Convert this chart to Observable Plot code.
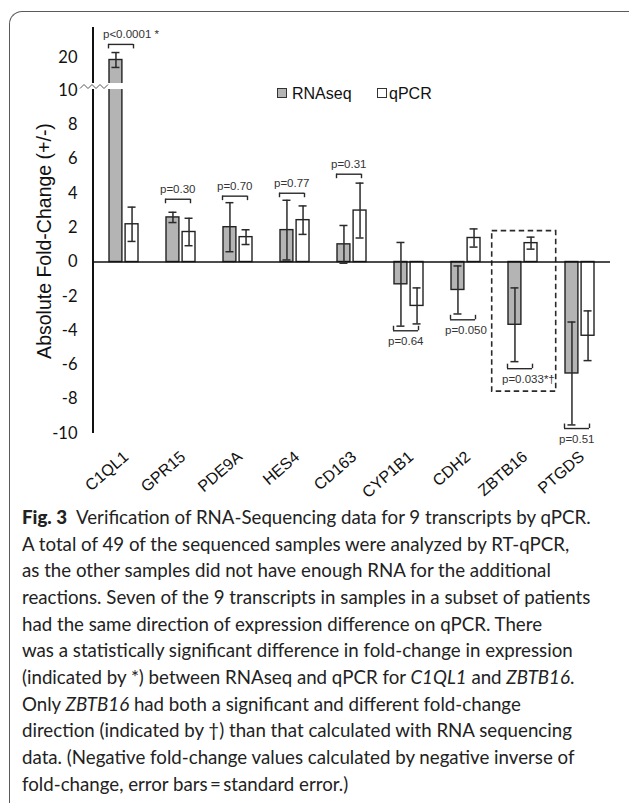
<!DOCTYPE html>
<html><head><meta charset="utf-8">
<script src="https://cdn.jsdelivr.net/npm/d3@7"></script>
<script src="https://cdn.jsdelivr.net/npm/@observablehq/plot@0.6"></script>
<style>
body{margin:0;background:#fff;}
#fig{position:relative;width:629px;height:803px;overflow:hidden;font-family:"Liberation Sans",Arial,sans-serif;color:#111;}
#border{position:absolute;left:9px;top:11px;width:660px;height:830px;border-top:1.5px solid #5a5a5a;border-left:1.5px solid #5a5a5a;border-top-left-radius:13px;}
#chart{position:absolute;left:0;top:0;}
#ylabel{position:absolute;left:44px;top:241px;transform:translate(-50%,-50%) rotate(-90deg);font-size:19.5px;white-space:nowrap;}
.lg{position:absolute;font-size:16px;line-height:16px;white-space:nowrap;}
.sw{position:absolute;width:8px;height:8px;border:1.3px solid #333;}
#caption{position:absolute;left:22px;top:504px;font-family:Lato,"Open Sans",sans-serif;font-size:18.7px;line-height:26.65px;color:#222;}
#caption div{white-space:nowrap;}
</style>
</head><body>
<div id="fig">
  <div id="border"></div>
  <div id="chart"></div>
  <div id="ylabel"></div>
  <div id="legend"></div>
  <div id="caption"></div>
</div>
<script>
// ---- data ----
const genes = ["C1QL1","GPR15","PDE9A","HES4","CD163","CYP1B1","CDH2","ZBTB16","PTGDS"];
const series = ["RNAseq","qPCR"];
const rnaseq    = [19.2, 2.6, 2.03, 1.86, 1.03, -1.3, -1.63, -3.66, -6.5];
const rnaseqErr = [2.25, 0.3, 1.43, 1.74, 1.1, 2.44, 1.4, 2.15, 3.0];
const qpcr      = [2.2, 1.75, 1.45, 2.44, 3.0, -2.56, 1.4, 1.1, -4.3];
const qpcrErr   = [1.0, 0.8, 0.43, 0.83, 1.6, 1.05, 0.53, 0.35, 1.45];
const pLabels   = ["p<0.0001 *","p=0.30","p=0.70","p=0.77","p=0.31","p=0.64","p=0.050","p=0.033*\u2020","p=0.51"];
const pBracket  = [23.9, 3.66, 3.84, 4.01, 5.12, -4.01, -3.37, -6.22, -9.71];
const highlightGene = "ZBTB16";
const highlightRange = [1.8, -7.56];
const yTicks = [-10,-8,-6,-4,-2,0,2,4,6,8,10,20];
const yBreak = 10;          // axis break: values above are compressed
const yBreakRatio = 0.1934; // compression above the break
const yDomain = [-10, 29];
const yLabel = "Absolute Fold-Change (+/-)";
const captionTitle = "Fig. 3";
const captionLines = [
  'Verification of RNA-Sequencing data for 9 transcripts by qPCR.',
  'A total of 49 of the sequenced samples were analyzed by RT-qPCR,',
  'as the other samples did not have enough RNA for the additional',
  'reactions. Seven of the 9 transcripts in samples in a subset of patients',
  'had the same direction of expression difference on qPCR. There',
  'was a statistically significant difference in fold-change in expression',
  '(indicated by *) between RNAseq and qPCR for <i>C1QL1</i> and <i>ZBTB16</i>.',
  'Only <i>ZBTB16</i> had both a significant and different fold-change',
  'direction (indicated by \u2020) than that calculated with RNA sequencing',
  'data. (Negative fold-change values calculated by negative inverse of',
  'fold-change, error bars\u2009=\u2009standard error.)'
];

// ---- broken-axis mapping ----
const brk = v => v <= yBreak ? v : yBreak + (v - yBreak) * yBreakRatio;

// ---- layout ----
const W = 629, H = 500, mL = 93, mR = 19, mT = 27, mB = 67;
const ink = "#2a2a2a";
const yPix = d3.scaleLinear(yDomain.map(brk), [H - mB, mT]);

const rows = genes.map((g, i) => ({gene: g, rna: rnaseq[i], rnaErr: rnaseqErr[i], q: qpcr[i], qErr: qpcrErr[i]}));
const brackets = genes.map((g, i) => {
  const up = pBracket[i] > 0;
  const b = brk(pBracket[i]);
  return {gene: g, label: pLabels[i], by: b, up, be: yPix.invert(yPix(b) + (up ? 4.5 : -4.5))};
});
const upB = brackets.filter(d => d.up), dnB = brackets.filter(d => !d.up);
const tickLabel = new Map(yTicks.map(t => [brk(t), String(t)]));

const plot = Plot.plot({
  width: W, height: H, marginLeft: mL, marginRight: mR, marginTop: mT, marginBottom: mB,
  style: {fontFamily: '"Liberation Sans", Arial, sans-serif', background: "transparent", overflow: "visible", color: "#111"},
  x: {domain: genes, paddingInner: 0.495, paddingOuter: 0.2475},
  y: {domain: yDomain.map(brk)},
  marks: [
    Plot.barY([{gene: highlightGene}], {x: "gene", y1: brk(highlightRange[0]), y2: brk(highlightRange[1]), insetLeft: -16.3, insetRight: -18.7,
      fill: "none", stroke: ink, strokeWidth: 1.6, strokeDasharray: "5.5,3.5"}),
    Plot.barY(rows, {x: "gene", y: d => brk(d.rna), fill: "#b4b4b4", stroke: "#222", strokeWidth: 1.4, insetRight: 16.1}),
    Plot.barY(rows, {x: "gene", y: d => brk(d.q), fill: "#fff", stroke: "#222", strokeWidth: 1.4, insetLeft: 16.1}),
    Plot.ruleY([0], {stroke: "#111", strokeWidth: 1.7}),
    // error bars
    Plot.ruleX(rows, {x: "gene", y1: d => brk(d.rna - d.rnaErr), y2: d => brk(d.rna + d.rnaErr), dx: -8.05, stroke: ink, strokeWidth: 1.5}),
    Plot.ruleX(rows, {x: "gene", y1: d => brk(d.q - d.qErr), y2: d => brk(d.q + d.qErr), dx: 8.05, stroke: ink, strokeWidth: 1.5}),
    Plot.tickY(rows, {x: "gene", y: d => brk(d.rna - d.rnaErr), insetLeft: 2.45, insetRight: 18.55, stroke: ink, strokeWidth: 1.5}),
    Plot.tickY(rows, {x: "gene", y: d => brk(d.rna + d.rnaErr), insetLeft: 2.45, insetRight: 18.55, stroke: ink, strokeWidth: 1.5}),
    Plot.tickY(rows, {x: "gene", y: d => brk(d.q - d.qErr), insetLeft: 18.55, insetRight: 2.45, stroke: ink, strokeWidth: 1.5}),
    Plot.tickY(rows, {x: "gene", y: d => brk(d.q + d.qErr), insetLeft: 18.55, insetRight: 2.45, stroke: ink, strokeWidth: 1.5}),
    // brackets
    Plot.tickY(brackets, {x: "gene", y: "by", insetLeft: -1, insetRight: 5, stroke: ink, strokeWidth: 1.4}),
    Plot.ruleX(brackets, {x: "gene", y1: "by", y2: "be", dx: -15.5, stroke: ink, strokeWidth: 1.4}),
    Plot.ruleX(brackets, {x: "gene", y1: "by", y2: "be", dx: 9.5, stroke: ink, strokeWidth: 1.4}),
    Plot.text(upB, {x: "gene", y: "by", text: "label", dy: -10, dx: -21, textAnchor: "start", fontSize: 11.5, fill: "#333"}),
    Plot.text(dnB, {x: "gene", y: "by", text: "label", dy: 10.5, dx: -21, textAnchor: "start", fontSize: 11.5, fill: "#333"}),
    // axes
    Plot.axisY(yTicks.map(brk), {tickSize: 0, tickPadding: 16, tickFormat: d => tickLabel.get(d), fontSize: 16.5, fontFamily: "Lato", label: null, fill: "#111"}),
    Plot.axisX({tickRotate: -41, tickSize: 0, tickPadding: 21, dx: 2, fontSize: 16, label: null, fill: "#111"})
  ]
});
document.getElementById("chart").appendChild(plot);

// axis line with break, drawn through the plot's own scales
const ys = plot.scale("y"), xs = plot.scale("x");
const sv = d3.select(plot);
const y10 = ys.apply(brk(yBreak)), yTop = ys.apply(brk(yDomain[1])), yBot = ys.apply(brk(yDomain[0]));
const x0 = mL, xb = xs.apply(genes[0]);
sv.append("rect").attr("x", x0 - 3).attr("y", y10 - 7).attr("width", xb + 15 - (x0 - 3)).attr("height", 6).attr("fill", "#fff");
sv.append("line").attr("x1", x0).attr("x2", x0).attr("y1", yTop).attr("y2", y10 - 7).attr("stroke", "#111").attr("stroke-width", 2);
sv.append("line").attr("x1", x0).attr("x2", x0).attr("y1", y10 - 1).attr("y2", yBot).attr("stroke", "#111").attr("stroke-width", 2);
const zz = d3.range(0, 8).map(k => [x0 - 13 + k * 4, y10 - (k % 2 ? 5.5 : 1.5)]);
sv.append("path").attr("d", d3.line()(zz)).attr("fill", "none").attr("stroke", "#555").attr("stroke-width", 1);

// legend
const lg = document.getElementById("legend");
lg.innerHTML =
  `<div class="sw" style="left:277px;top:88px;background:#b4b4b4"></div><div class="lg" style="left:292px;top:86px">${series[0]}</div>` +
  `<div class="sw" style="left:377px;top:88px;background:#fff"></div><div class="lg" style="left:389px;top:86px">${series[1]}</div>`;

document.getElementById("ylabel").textContent = yLabel;
document.getElementById("caption").innerHTML = captionLines.map((l, i) => i === 0
  ? `<div><b style="font-weight:900">${captionTitle}</b>&nbsp; ${l}</div>`
  : `<div>${l}</div>`).join("");
</script>
</body></html>
